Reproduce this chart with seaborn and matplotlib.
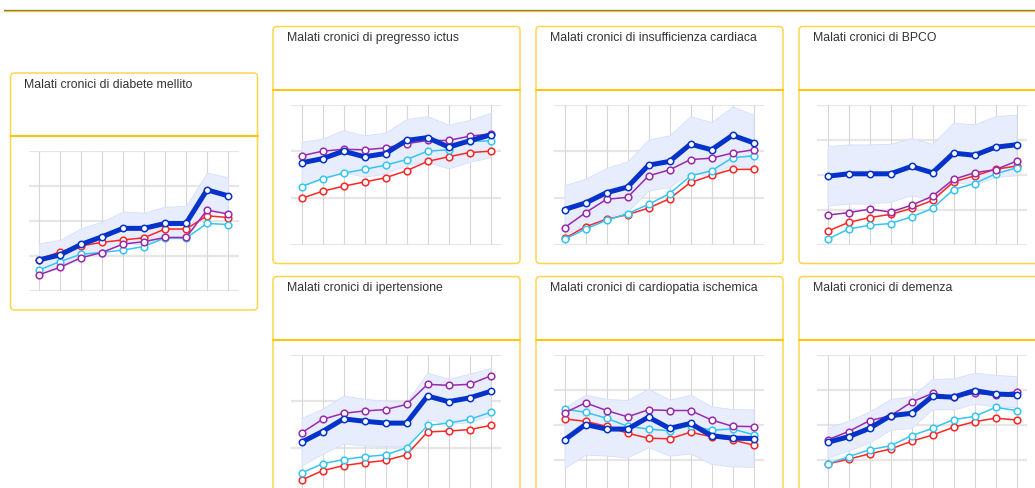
import pandas as pd
import matplotlib.pyplot as plt
from matplotlib.patches import FancyBboxPatch
import seaborn as sns

# ten yearly points per card (no axis labels shown)
years = list(range(10))

titles = [
    "Malati cronici di diabete mellito",
    "Malati cronici di pregresso ictus",
    "Malati cronici di insufficienza cardiaca",
    "Malati cronici di BPCO",
    "Malati cronici di ipertensione",
    "Malati cronici di cardiopatia ischemica",
    "Malati cronici di demenza",
]

# values in grid units (bottom gridline = 0)
diabete_blue = [0.89, 1.03, 1.33, 1.55, 1.79, 1.79, 1.93, 1.93, 2.89, 2.72]
diabete_red = [0.90, 1.12, 1.29, 1.39, 1.46, 1.52, 1.77, 1.77, 2.15, 2.10]
diabete_cyan = [0.60, 0.84, 1.05, 1.10, 1.17, 1.27, 1.52, 1.51, 1.93, 1.90]
diabete_purple = [0.46, 0.68, 0.95, 1.10, 1.34, 1.41, 1.53, 1.53, 2.31, 2.20]
diabete_hi = [1.36, 1.46, 1.79, 1.98, 2.27, 2.24, 2.41, 2.43, 3.38, 3.25]
diabete_lo = [0.50, 0.65, 0.95, 1.15, 1.35, 1.35, 1.50, 1.50, 2.35, 2.25]

ictus_blue = [1.75, 1.84, 2.00, 1.88, 1.95, 2.23, 2.29, 2.09, 2.22, 2.35]
ictus_red = [0.99, 1.14, 1.25, 1.34, 1.43, 1.58, 1.78, 1.88, 1.97, 2.00]
ictus_cyan = [1.24, 1.41, 1.53, 1.61, 1.70, 1.82, 2.00, 2.03, 2.21, 2.22]
ictus_purple = [1.90, 2.00, 2.04, 2.03, 2.07, 2.16, 2.23, 2.23, 2.32, 2.37]
ictus_hi = [2.20, 2.27, 2.45, 2.34, 2.40, 2.69, 2.75, 2.57, 2.67, 2.82]
ictus_lo = [1.27, 1.41, 1.55, 1.45, 1.52, 1.70, 1.77, 1.63, 1.77, 1.87]

cardiaca_blue = [0.75, 0.89, 1.11, 1.23, 1.70, 1.78, 2.15, 2.03, 2.34, 2.18]
cardiaca_red = [0.13, 0.38, 0.54, 0.64, 0.78, 0.98, 1.33, 1.48, 1.61, 1.61]
cardiaca_cyan = [0.11, 0.33, 0.52, 0.66, 0.86, 1.09, 1.47, 1.58, 1.86, 1.90]
cardiaca_purple = [0.36, 0.68, 0.97, 1.01, 1.47, 1.60, 1.82, 1.85, 1.96, 2.03]
cardiaca_hi = [1.27, 1.41, 1.64, 1.78, 2.25, 2.34, 2.75, 2.62, 2.96, 2.78]
cardiaca_lo = [0.24, 0.38, 0.59, 0.70, 1.16, 1.23, 1.55, 1.45, 1.73, 1.59]

bpco_blue = [1.95, 2.02, 2.02, 2.02, 2.23, 2.05, 2.61, 2.55, 2.78, 2.85]
bpco_red = [0.38, 0.63, 0.77, 0.86, 1.03, 1.26, 1.79, 1.96, 2.15, 2.24]
bpco_cyan = [0.15, 0.44, 0.55, 0.60, 0.79, 1.03, 1.57, 1.74, 2.02, 2.19]
bpco_purple = [0.84, 0.91, 1.01, 0.93, 1.12, 1.38, 1.86, 2.05, 2.14, 2.38]
bpco_hi = [2.81, 2.86, 2.86, 2.88, 3.04, 2.88, 3.48, 3.43, 3.67, 3.71]
bpco_lo = [1.12, 1.17, 1.17, 1.22, 1.41, 1.26, 1.79, 1.71, 1.93, 1.98]

iper_blue = [1.12, 1.35, 1.62, 1.57, 1.53, 1.53, 2.11, 1.99, 2.07, 2.21]
iper_red = [0.31, 0.51, 0.62, 0.68, 0.73, 0.85, 1.34, 1.36, 1.39, 1.48]
iper_cyan = [0.46, 0.66, 0.75, 0.81, 0.85, 1.00, 1.48, 1.53, 1.61, 1.76]
iper_purple = [1.32, 1.61, 1.74, 1.79, 1.82, 1.93, 2.36, 2.34, 2.36, 2.54]
iper_hi = [1.64, 1.84, 2.12, 2.05, 2.01, 1.98, 2.61, 2.48, 2.59, 2.71]
iper_lo = [0.62, 0.87, 1.09, 1.05, 1.04, 1.04, 1.62, 1.51, 1.55, 1.69]

ischemica_blue = [1.56, 2.00, 1.87, 1.87, 2.21, 1.89, 2.03, 1.68, 1.61, 1.60]
ischemica_red = [2.16, 2.09, 1.95, 1.75, 1.61, 1.59, 1.78, 1.65, 1.56, 1.41]
ischemica_cyan = [2.44, 2.35, 2.18, 1.95, 1.87, 1.82, 1.97, 1.84, 1.87, 1.71]
ischemica_purple = [2.33, 2.62, 2.40, 2.22, 2.42, 2.40, 2.40, 2.13, 1.95, 1.94]
ischemica_hi = [2.49, 2.85, 2.73, 2.70, 3.02, 2.71, 2.85, 2.52, 2.44, 2.43]
ischemica_lo = [0.75, 1.14, 1.11, 1.06, 1.35, 1.11, 1.17, 0.87, 0.80, 0.79]

demenza_blue = [1.49, 1.65, 1.89, 2.25, 2.32, 2.81, 2.78, 2.97, 2.87, 2.85]
demenza_red = [0.87, 1.01, 1.16, 1.30, 1.52, 1.70, 1.92, 2.08, 2.18, 2.13]
demenza_cyan = [0.87, 1.08, 1.28, 1.39, 1.68, 1.89, 2.14, 2.23, 2.49, 2.40]
demenza_purple = [1.56, 1.80, 2.11, 2.25, 2.64, 2.89, 2.78, 2.89, 2.85, 2.94]
demenza_hi = [1.90, 2.11, 2.37, 2.73, 2.81, 3.30, 3.32, 3.48, 3.42, 3.38]
demenza_lo = [1.06, 1.25, 1.49, 1.85, 1.90, 2.44, 2.43, 2.59, 2.52, 2.49]

# number of grid intervals per card
intervals = [4, 3, 3, 4, 3, 4, 4]

series = [
    (diabete_blue, diabete_red, diabete_cyan, diabete_purple, diabete_hi, diabete_lo),
    (ictus_blue, ictus_red, ictus_cyan, ictus_purple, ictus_hi, ictus_lo),
    (cardiaca_blue, cardiaca_red, cardiaca_cyan, cardiaca_purple, cardiaca_hi, cardiaca_lo),
    (bpco_blue, bpco_red, bpco_cyan, bpco_purple, bpco_hi, bpco_lo),
    (iper_blue, iper_red, iper_cyan, iper_purple, iper_hi, iper_lo),
    (ischemica_blue, ischemica_red, ischemica_cyan, ischemica_purple, ischemica_hi, ischemica_lo),
    (demenza_blue, demenza_red, demenza_cyan, demenza_purple, demenza_hi, demenza_lo),
]

# card top-left corners in pixels
cards = [(10.5, 73), (273, 26.5), (536, 26.5), (799, 26.5),
         (273, 276.5), (536, 276.5), (799, 276.5)]

W, H = 1035, 488
CARD_W, CARD_H = 247, 237

sns.set_theme(style="white")
plt.rcParams["font.family"] = ["Liberation Sans", "DejaVu Sans"]

fig = plt.figure(figsize=(W / 100, H / 100), dpi=100)

# background layer in pixel coordinates
bg = fig.add_axes([0, 0, 1, 1])
bg.set_xlim(0, W)
bg.set_ylim(H, 0)
bg.axis("off")

bg.plot([4, W], [10.2, 10.2], color="#7a7a7a", lw=1.0)
bg.plot([4, W], [11.3, 11.3], color="#f5c400", lw=0.9)

for (cx, cy), title in zip(cards, titles):
    box = FancyBboxPatch((cx, cy), CARD_W, CARD_H,
                         boxstyle="round,pad=0,rounding_size=4",
                         facecolor="white", edgecolor="#ffd54a", lw=1.1)
    bg.add_patch(box)
    bg.plot([cx, cx + CARD_W], [cy + 63, cy + 63], color="#ffc400", lw=1.4)
    bg.text(cx + 14, cy + 5.5, title, fontsize=8.8, color="#333333",
            va="top", ha="left")

for (cx, cy), n, (blue, red, cyan, purple, hi, lo) in zip(cards, intervals, series):
    left = cx + 18
    top = cy + 78
    height = 140
    ax = fig.add_axes([left / W, 1 - (top + height) / H, 210 / W, height / H])

    for k in range(n + 1):
        ax.hlines(k, -0.5, 9.5, color="#e6e6e6", lw=1.6, zorder=0)
    ax.vlines(years, 0, n, color="#d6d6d6", lw=0.8, zorder=0)

    ax.fill_between(years, lo, hi, facecolor="#e7edfc", edgecolor="#d6e0f9",
                    lw=0.6, zorder=1)

    df = pd.DataFrame({"anno": years, "red": red, "cyan": cyan,
                       "purple": purple, "blue": blue})
    for col, color in [("red", "#ff2626"), ("cyan", "#35c5f5"), ("purple", "#9a2aab")]:
        sns.lineplot(data=df, x="anno", y=col, ax=ax, color=color, lw=1.1,
                     marker="o", markersize=4.8, markerfacecolor="white",
                     markeredgecolor=color, markeredgewidth=1.1,
                     clip_on=False, zorder=3)
    sns.lineplot(data=df, x="anno", y="blue", ax=ax, color="#0532c8", lw=3.6,
                 marker="o", markersize=4.6, markerfacecolor="white",
                 markeredgecolor="#0532c8", markeredgewidth=1.1,
                 clip_on=False, zorder=4)
    ax.set_xlim(-0.5, 9.5)
    ax.set_ylim(0, n)
    ax.axis("off")

fig.savefig("out.png", dpi=100)
